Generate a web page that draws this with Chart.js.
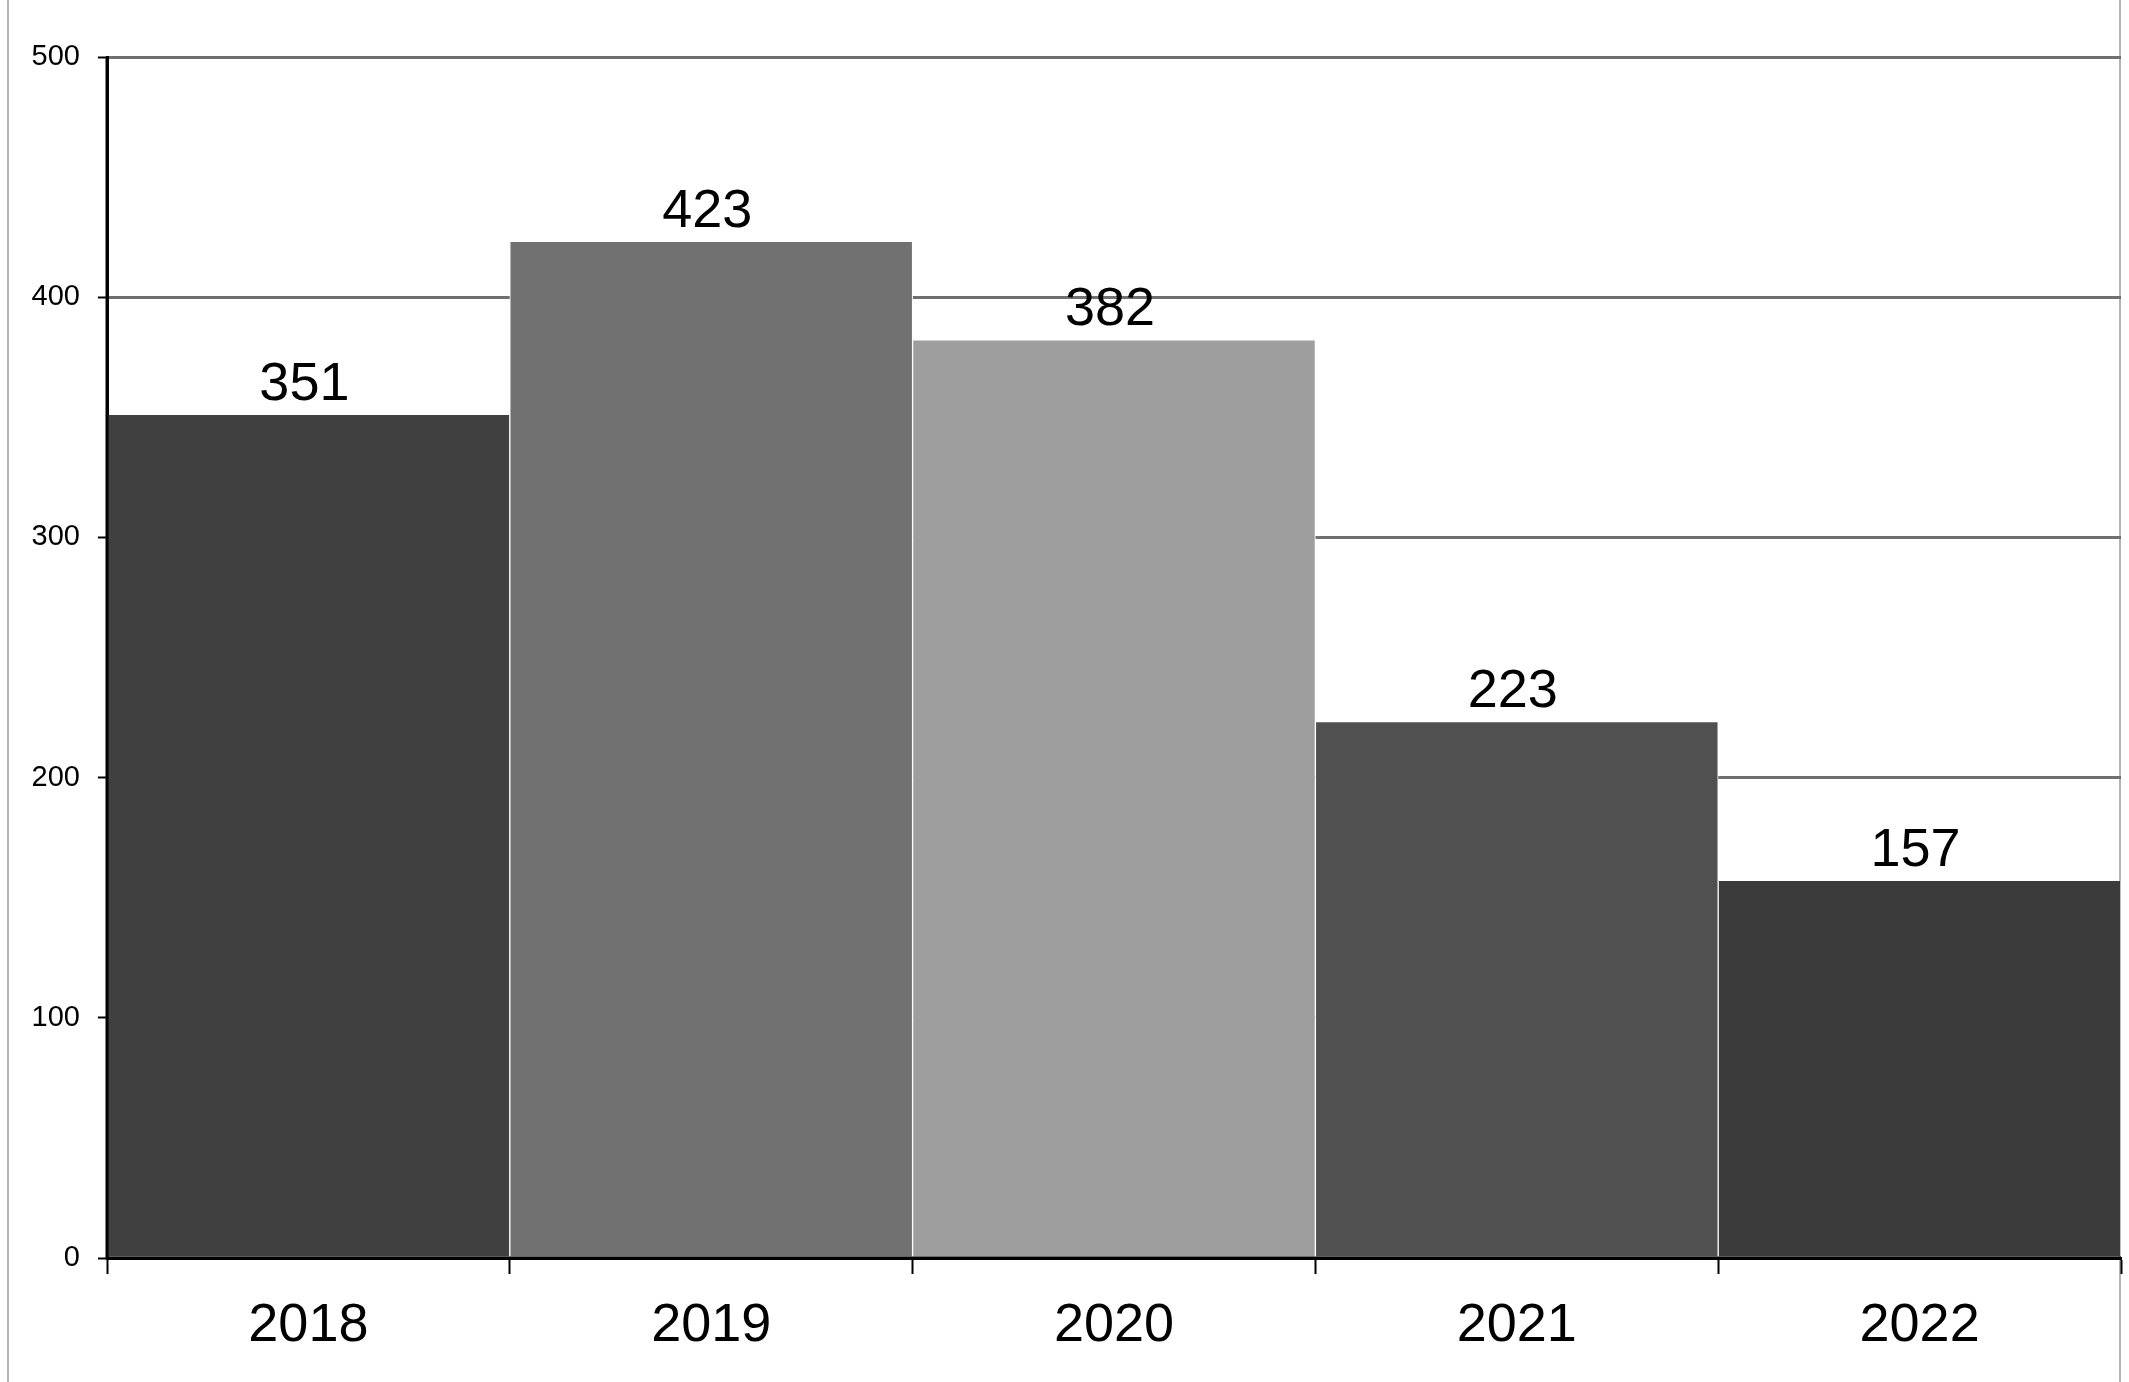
<!DOCTYPE html>
<html>
<head>
<meta charset="utf-8">
<script src="https://cdn.jsdelivr.net/npm/chart.js@4"></script>
<style>
  html, body { margin: 0; padding: 0; background: #fff; }
  #wrap { position: relative; width: 2129px; height: 1382px; }
  #frame { position: absolute; left: 7px; top: 0; width: 2114px; height: 1382px;
           border-left: 2px solid #b4b4b4; border-right: 2px solid #b4b4b4; box-sizing: border-box; }
  canvas { position: absolute; left: 0; top: 0; }
</style>
</head>
<body>
<div id="wrap">
  <div id="frame"></div>
  <canvas id="grafico" width="2129" height="1382"></canvas>
</div>
<script>
var anos = ['2018', '2019', '2020', '2021', '2022'];
var valores = [351, 423, 382, 223, 157];
var cores = ['#404040', '#717171', '#9e9e9e', '#505050', '#3b3b3b'];
var ticksY = [0, 100, 200, 300, 400, 500];

// rotulos com o valor acima de cada barra + eixos por cima das barras
var rotulosBarras = {
    id: 'rotulosBarras',
    afterDatasetsDraw: function(chart) {
        var ctx = chart.ctx;
        var area = chart.chartArea;
        var meta = chart.getDatasetMeta(0);
        ctx.save();
        ctx.strokeStyle = '#000';
        ctx.lineWidth = 3;
        ctx.beginPath();
        ctx.moveTo(area.left, area.top);
        ctx.lineTo(area.left, area.bottom);
        ctx.lineTo(area.right, area.bottom);
        ctx.stroke();

        ctx.font = '54px "Liberation Sans", Arial, sans-serif';
        ctx.fillStyle = '#000';
        ctx.textAlign = 'center';
        ctx.textBaseline = 'alphabetic';
        meta.data.forEach(function(bar, i) {
            ctx.fillText(valores[i], bar.x - 4, bar.y - 15);
        });
        ctx.restore();
    }
};

var data = {
    labels: anos,
    datasets: [{
        data: valores,
        backgroundColor: cores,
        borderColor: '#ffffff',
        borderWidth: { top: 0, left: 1, right: 1, bottom: 0 },
        barPercentage: 1,
        categoryPercentage: 1
    }]
};

var options = {
    responsive: false,
    animation: false,
    layout: { padding: { top: 57, right: 8, left: 0, bottom: 0 } },
    plugins: { legend: { display: false }, tooltip: { enabled: false } },
    scales: {
        x: {
            grid: { display: true, drawOnChartArea: false, drawTicks: true, tickLength: 16, tickColor: '#000', tickWidth: 2, offset: true },
            border: { display: true, color: '#000', width: 3 },
            ticks: { color: '#000', padding: 20, font: { family: '"Liberation Sans", Arial, sans-serif', size: 54 } },
            afterFit: function(scale) { scale.height = 124; }
        },
        y: {
            min: 0,
            max: 500,
            afterBuildTicks: function(scale) { scale.ticks = ticksY.map(function(v) { return { value: v }; }); },
            grid: { color: '#707070', lineWidth: 3, tickLength: 9, tickColor: '#000', tickWidth: 2 },
            border: { display: true, color: '#000', width: 3 },
            ticks: { color: '#000', padding: 18, font: { family: '"Liberation Sans", Arial, sans-serif', size: 29 } },
            afterFit: function(scale) { scale.width = 107; }
        }
    }
};

var ctx = document.getElementById('grafico').getContext('2d');
var grafico = new Chart(ctx, {
    type: 'bar',
    data: data,
    options: options,
    plugins: [rotulosBarras]
});
</script>
</body>
</html>
